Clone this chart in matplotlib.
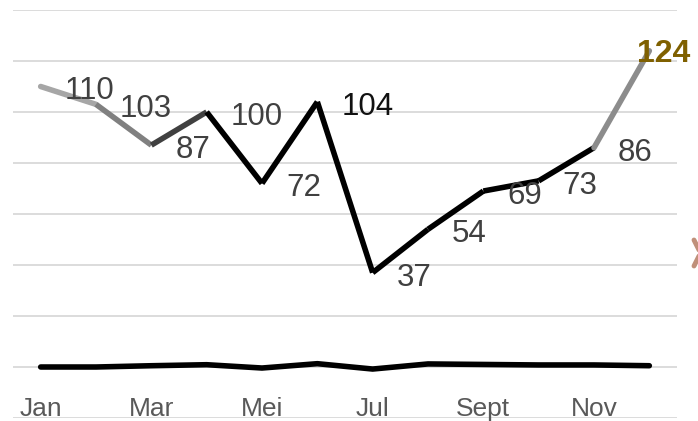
import numpy as np
import matplotlib
matplotlib.use("Agg")
from matplotlib import pyplot as plt
from matplotlib.lines import Line2D

plt.rcParams['font.family'] = ['Liberation Sans', 'DejaVu Sans']

bulan = ["Jan", "Feb", "Mar", "Apr", "Mei", "Jun", "Jul", "Agu", "Sept", "Okt", "Nov", "Des"]
nilai = [110, 103, 87, 100, 72, 104, 37, 54, 69, 73, 86, 124]
dasar = [0, 0, 0.5, 0.9, -0.4, 1.3, -0.8, 1.2, 1.0, 0.8, 0.8, 0.5]
warna_seg = ["#a6a6a6", "#808080", "#404040", "black", "black", "black",
             "black", "black", "black", "black", "#8c8c8c"]
warna_label = ["#404040"] * 5 + ["#111111"] + ["#404040"] * 5 + ["#7f6000"]

fig = plt.figure(figsize=(6.98, 4.21), dpi=100)
ax = fig.add_axes([13 / 698, 3 / 421, 664 / 698, 408 / 421])

x = np.arange(len(bulan))
ax.set_xlim(-0.5, len(bulan) - 0.5)
ax.set_ylim(-20, 140)
for g in range(-20, 141, 20):
    ax.axhline(g, color="#d9d9d9", lw=1.3, zorder=0)

# garis dasar dekat nol
ax.plot(x, dasar, color="black", lw=4, solid_capstyle="round", zorder=3)

# garis utama per segmen
for i in range(len(nilai) - 1):
    ax.plot(x[i:i + 2], nilai[i:i + 2], color=warna_seg[i], lw=4,
            solid_capstyle="round" if i in (0, 10) else "butt", zorder=3)

for i, v in enumerate(nilai):
    if i == len(nilai) - 1:
        ax.annotate(str(v), (x[i], v), xytext=(-12, -3), textcoords="offset pixels",
                    ha="left", va="center", fontsize=23, fontweight="bold",
                    color=warna_label[i], annotation_clip=False, zorder=4)
    else:
        ax.annotate(str(v), (x[i], v), xytext=(24, -5), textcoords="offset pixels",
                    ha="left", va="center", fontsize=22.5, color=warna_label[i], zorder=4)

for i in range(0, len(bulan), 2):
    ax.text(x[i], -19.3, bulan[i], ha="center", va="baseline", fontsize=19, color="#595959")

ax.set_xticks([])
ax.set_yticks([])
for s in ax.spines.values():
    s.set_visible(False)

# potongan ikon coklat di tepi kanan
W, H = 698, 421
fig.add_artist(Line2D([694 / W, 700 / W], [1 - 240 / H, 1 - 252 / H], color="#c0907a",
                      lw=3.5, solid_capstyle="round"))
fig.add_artist(Line2D([694 / W, 700 / W], [1 - 266 / H, 1 - 254 / H], color="#c0907a",
                      lw=3.5, solid_capstyle="round"))

fig.savefig("out.png", dpi=100)
